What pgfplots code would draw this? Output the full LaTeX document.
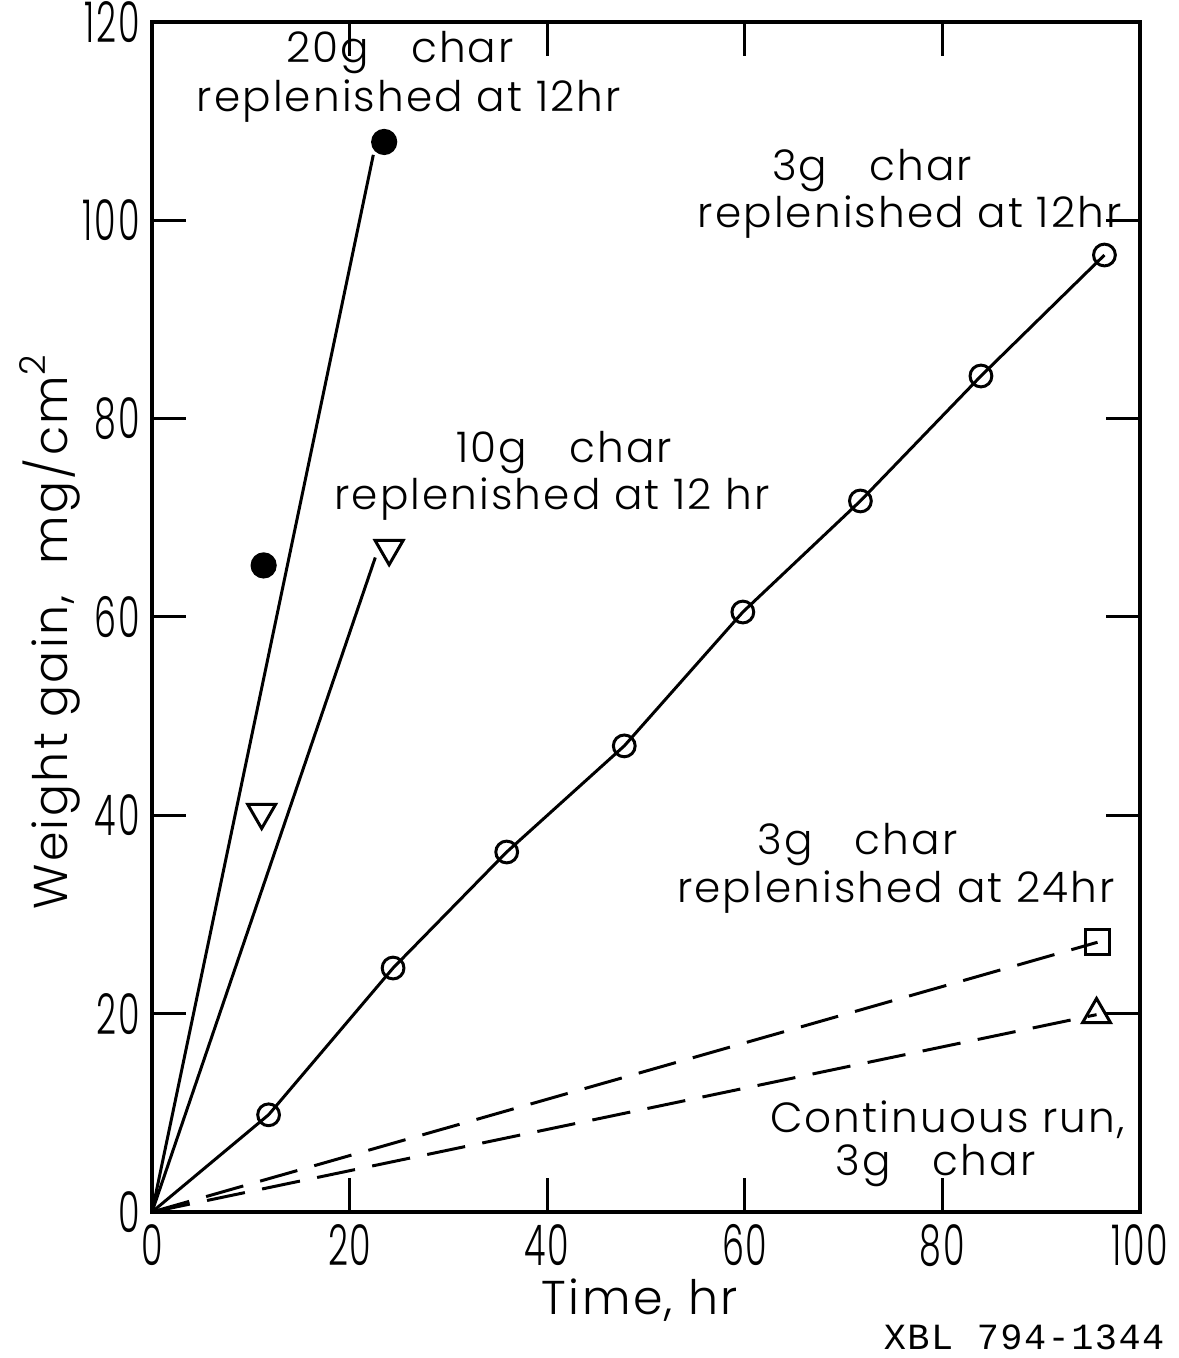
\documentclass[border=0pt]{standalone}
\usepackage{fontspec}
\setmainfont{Poppins}[UprightFont=* Light, LetterSpace=5]
\newfontfamily\monofont{Liberation Mono}[LetterSpace=4]
\usepackage{graphicx}
\usepackage{pgfplots}
\pgfplotsset{compat=1.18}
\newcommand{\ann}{\fontsize{12}{14}\selectfont}
\begin{document}
\begin{tikzpicture}
\path[use as bounding box] (-1.52cm,-1.46cm) rectangle (10.27cm,12.12cm);
\begin{axis}[
  at={(0,0)}, anchor=south west,
  scale only axis, width=9.88cm, height=11.9cm,
  xmin=0, xmax=100, ymin=0, ymax=120,
  xtick={0,20,...,100}, ytick={0,20,...,120},
  tick align=inside, major tick length=0.34cm,
  tick style={line width=0.85pt, black},
  axis line style={line width=1pt},
  /pgf/number format/assume math mode=true,
  xticklabel={\scalebox{0.62}[1]{\pgfmathprintnumber{\tick}}},
  yticklabel={\scalebox{0.62}[1]{\pgfmathprintnumber{\tick}}},
  ticklabel style={font=\fontsize{16}{16}\selectfont},
  xlabel={Time,\ hr},
  ylabel={Weight gain,\ \ mg/cm\raisebox{0.85ex}{\scalebox{0.75}{2}}},
  label style={font=\fontsize{13.5}{14}\selectfont},
  xlabel style={at={(axis description cs:0.494,-0.074)}, anchor=center},
  ylabel style={at={(axis description cs:-0.103,0.487)}, anchor=center},
  clip=false,
  every axis plot/.append style={line width=0.85pt, black},
]
% 20 g char
\addplot[black] coordinates {(0,0) (22.4,106.6)};
\addplot[only marks, mark=*, mark size=3.3pt, mark options={fill=black}] coordinates {(11.3,65.2) (23.5,107.9)};
% 10 g char
\addplot[black] coordinates {(0,0) (22.6,66.0)};
\addplot[only marks, mark=triangle, mark size=4.6pt, mark options={rotate=180, fill=white}] coordinates {(11.1,40.3) (24.0,66.9)};
% 3 g char replenished at 12 hr
\addplot[mark=o, mark size=3.1pt, mark indices={2,3,4,5,6,7,8,9}, mark options={fill=white}] coordinates {
  (0,0) (11.8,9.8) (24.4,24.6) (35.9,36.3) (47.8,47.0) (59.8,60.5) (71.7,71.7) (83.9,84.3) (96.4,96.5)};
% 3 g char replenished at 24 hr
\addplot[dash pattern=on 11pt off 5pt, mark=square, mark size=3.5pt, mark indices={2}, mark options={solid, fill=white}] coordinates {(0,0) (95.7,27.2)};
% continuous run
\addplot[dash pattern=on 11pt off 5pt, mark=triangle, mark size=4.6pt, mark indices={2}, mark options={solid, fill=white}] coordinates {(0,0) (95.6,19.9)};
% annotations
\node[anchor=base, font=\ann] at (axis cs:25.1,115.9) {20g\quad char};
\node[anchor=base, font=\ann] at (axis cs:26.0,111.0) {replenished at 12hr};
\node[anchor=base, font=\ann] at (axis cs:72.9,104.0) {3g\quad char};
\node[anchor=base, font=\ann] at (axis cs:76.7,99.3) {replenished at 12hr};
\node[anchor=base, font=\ann] at (axis cs:41.7,75.6) {10g\quad char};
\node[anchor=base, font=\ann] at (axis cs:40.5,70.8) {replenished at 12 hr};
\node[anchor=base, font=\ann] at (axis cs:71.4,36.0) {3g\quad char};
\node[anchor=base, font=\ann] at (axis cs:75.3,31.25) {replenished at 24hr};
\node[anchor=base, font=\ann] at (axis cs:80.5,8.06) {Continuous run,};
\node[anchor=base, font=\ann] at (axis cs:79.3,3.7) {3g\quad char};
\end{axis}
\node[anchor=east, inner sep=0pt, font=\monofont\fontsize{10.5}{12}\selectfont] at (10.13cm,-1.25cm) {XBL 794-1344};
\end{tikzpicture}
\end{document}
